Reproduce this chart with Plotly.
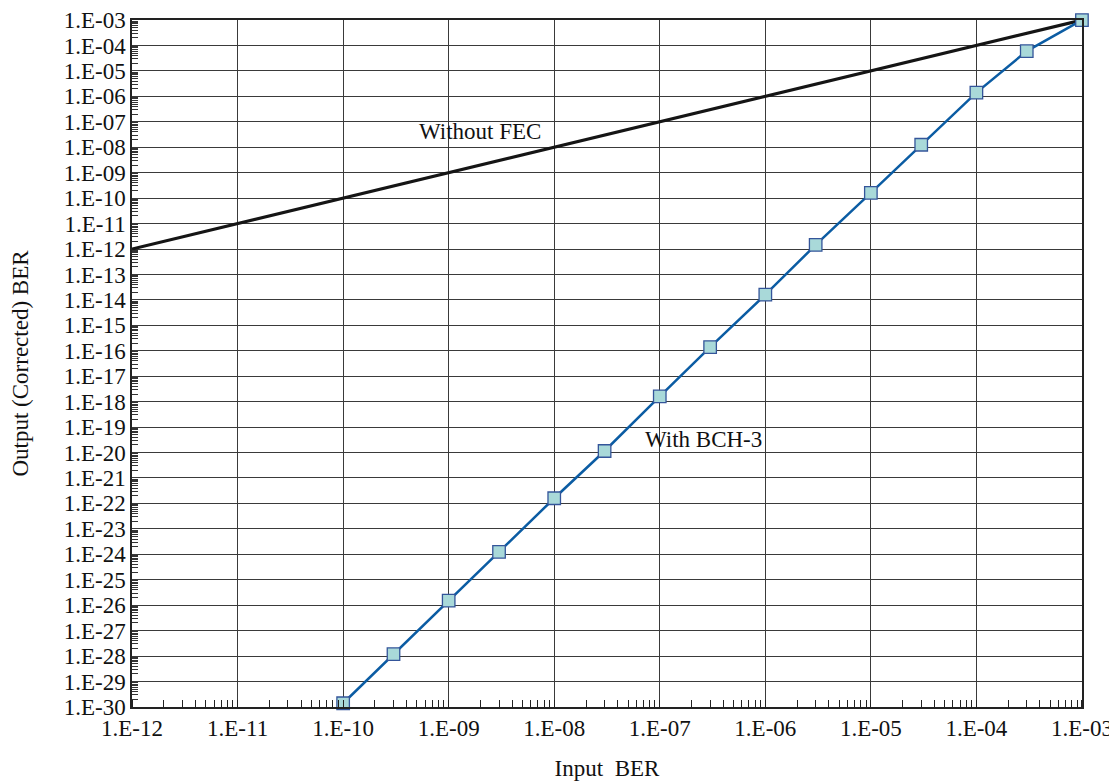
import plotly.graph_objects as go

# Without FEC: output BER equals input BER
nofec_x = [1e-12, 2e-12, 5e-12, 1e-11, 2e-11, 5e-11, 1e-10, 2e-10, 5e-10, 1e-9, 2e-9, 5e-9,
           1e-8, 2e-8, 5e-8, 1e-7, 2e-7, 5e-7, 1e-6, 2e-6, 5e-6, 1e-5, 2e-5, 5e-5,
           1e-4, 2e-4, 5e-4, 1e-3]
nofec_y = [1e-12, 2e-12, 5e-12, 1e-11, 2e-11, 5e-11, 1e-10, 2e-10, 5e-10, 1e-9, 2e-9, 5e-9,
           1e-8, 2e-8, 5e-8, 1e-7, 2e-7, 5e-7, 1e-6, 2e-6, 5e-6, 1e-5, 2e-5, 5e-5,
           1e-4, 2e-4, 5e-4, 1e-3]

# With BCH-3
bch_x = [1e-10, 3e-10, 1e-9, 3e-9, 1e-8, 3e-8, 1e-7, 3e-7, 1e-6, 3e-6, 1e-5, 3e-5, 1e-4, 3e-4, 1e-3]
bch_y = [1.4e-30, 1.2e-28, 1.5e-26, 1.25e-24, 1.6e-22, 1.15e-20, 1.6e-18, 1.4e-16, 1.6e-14,
         1.45e-12, 1.6e-10, 1.25e-8, 1.4e-6, 6.0e-5, 1e-3]

x_tickvals = [1e-12, 1e-11, 1e-10, 1e-9, 1e-8, 1e-7, 1e-6, 1e-5, 1e-4, 1e-3]
x_ticktext = ["1.E-12", "1.E-11", "1.E-10", "1.E-09", "1.E-08", "1.E-07", "1.E-06",
              "1.E-05", "1.E-04", "1.E-03"]
y_exps = list(range(3, 31))
y_tickvals = [10.0 ** (-e) for e in y_exps]
y_ticktext = ["1.E-%02d" % e for e in y_exps]
y_minor_vals = [k * 10.0 ** (-e) for e in range(4, 31) for k in range(2, 10)]

Y_RANGE = [-30.001, -2.999]

fig = go.Figure()
# invisible helper trace so the minor-tick y axis is drawn
fig.add_trace(go.Scatter(x=nofec_x, y=nofec_y, mode="lines", yaxis="y2",
                         line=dict(color="rgba(0,0,0,0)", width=0), hoverinfo="skip",
                         showlegend=False))
fig.add_trace(go.Scatter(x=nofec_x, y=nofec_y, mode="lines",
                         line=dict(color="#151515", width=3.2), showlegend=False))
fig.add_trace(go.Scatter(x=bch_x, y=bch_y, mode="lines+markers",
                         line=dict(color="#0b5ca3", width=2.5),
                         marker=dict(symbol="square", size=12.5, color="#a9d9d9",
                                     line=dict(color="#34559a", width=1.3)),
                         showlegend=False, cliponaxis=False))

font = "Liberation Serif, Times New Roman, serif"
fs = 23
fig.add_annotation(x=-8.7, y=-7.4, xref="x", yref="y", text="Without FEC",
                   showarrow=False, font=dict(family=font, size=fs, color="#111"))
fig.add_annotation(x=-6.59, y=-19.5, xref="x", yref="y", text="With BCH-3",
                   showarrow=False, font=dict(family=font, size=fs, color="#111"))

fig.update_xaxes(type="log", range=[-12.0005, -2.9995], tickvals=x_tickvals, ticktext=x_ticktext,
                 showgrid=True, gridcolor="#3a3a3a", gridwidth=1,
                 showline=True, linecolor="#222", linewidth=1.5, mirror=True,
                 ticks="", ticklen=0, tickfont=dict(family=font, size=fs, color="#111"),
                 minor=dict(ticks="inside", ticklen=7, tickcolor="#222", dtick="D1",
                            showgrid=False),
                 title=dict(text="Input  BER", font=dict(family=font, size=fs, color="#111"),
                            standoff=20),
                 automargin=False, zeroline=False)
fig.update_layout(
    yaxis=dict(type="log", range=Y_RANGE, tickvals=y_tickvals, ticktext=y_ticktext,
               showgrid=True, gridcolor="#3a3a3a", gridwidth=1,
               showline=True, linecolor="#222", linewidth=1.5, mirror=True,
               ticks="", ticklen=0, tickfont=dict(family=font, size=fs, color="#111"),
               title=dict(text="Output (Corrected) BER",
                          font=dict(family=font, size=fs, color="#111"), standoff=30),
               automargin=False, zeroline=False),
    yaxis2=dict(type="log", range=Y_RANGE, overlaying="y", side="left", anchor="x",
                tickmode="array", tickvals=y_minor_vals, ticks="inside", ticklen=6,
                tickcolor="#333", tickwidth=1, showticklabels=False, showgrid=False,
                showline=False, zeroline=False, automargin=False),
)

# page body adds an 8px offset, so the figure is sized to fill the rest of the window
fig.update_layout(width=1109, height=774, margin=dict(l=124, r=35, t=12, b=75),
                  plot_bgcolor="white", paper_bgcolor="white")
fig.write_html("out.html")
